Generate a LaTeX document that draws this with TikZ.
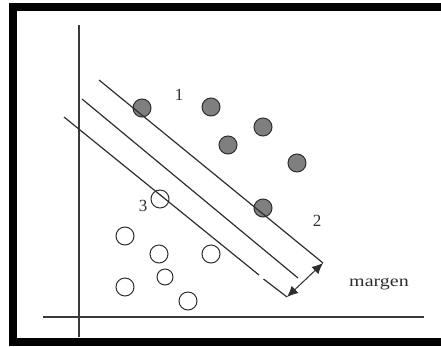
\documentclass[tikz,border=0pt]{standalone}
\usepackage{fontspec}
\setmainfont{Liberation Serif}
\newfontfamily\margenfont[FakeStretch=1.25]{Liberation Serif}
\usetikzlibrary{arrows.meta}

\definecolor{svmtrazo}{HTML}{2E2E2E}
\definecolor{svmgris}{HTML}{7F7F7F}
\definecolor{svmeje}{HTML}{3A3A3A}

\begin{document}
\begin{tikzpicture}[x=1pt,y=-1pt,
  lleno/.style={circle, draw=svmtrazo, fill=svmgris, line width=1pt,
                minimum size=18pt, inner sep=0pt},
  vacio/.style={circle, draw=svmtrazo, line width=1pt,
                minimum size=18pt, inner sep=0pt},
  etiqueta/.style={font=\fontsize{17}{19}\selectfont, text=svmtrazo, inner sep=0pt},
  recta/.style={draw=svmtrazo, line width=1.2pt}]
\useasboundingbox (0,0) rectangle (441,346);
% marco
\draw[line width=8pt] (441,7) -- (13,7) -- (13,342) -- (441,342);
% ejes
\coordinate (ejeY0) at (79,25);  \coordinate (ejeY1) at (79,337);
\coordinate (ejeX0) at (43,317); \coordinate (ejeX1) at (424,317);
\draw[svmeje, line width=1.6pt] (ejeY0) -- (ejeY1);
\draw[svmeje, line width=1.6pt] (ejeX0) -- (ejeX1);
% clase 1
\node[lleno] (p1) at (142,108) {};
\node[lleno] (p2) at (211,107) {};
\node[lleno] (p3) at (263,127) {};
\node[lleno] (p4) at (228,145) {};
\node[lleno] (p5) at (297,163) {};
\node[lleno] (p6) at (263,208) {};
% clase 2
\node[vacio] (q1) at (160,199) {};
\node[vacio] (q2) at (125,236) {};
\node[vacio] (q3) at (159,254) {};
\node[vacio] (q4) at (211,254) {};
\node[vacio, minimum size=16pt] (q5) at (165,277) {};
\node[vacio] (q6) at (125,287) {};
\node[vacio] (q7) at (188,301) {};
% hiperplanos
\coordinate (sup0) at (99,80);  \coordinate (sup1) at (323,263);
\coordinate (med0) at (82,99);  \coordinate (med1) at (298,278);
\coordinate (inf0) at (64,117); \coordinate (infA) at (259,275);
\coordinate (infB) at (263.5,279); \coordinate (inf1) at (287,297);
\draw[recta] (sup0) -- (sup1);
\draw[recta] (med0) -- (med1);
\draw[recta] (inf0) -- (infA);
\draw[recta] (infB) -- (inf1);
\draw[svmtrazo, line width=1pt,
      {Latex[length=11pt,width=10pt]}-{Latex[length=11pt,width=10pt]}]
  (inf1) -- (sup1);
% etiquetas
\node[etiqueta] (e1) at (179,95) {1};
\node[etiqueta] (e2) at (317,221) {2};
\node[etiqueta] (e3) at (143,206) {3};
\node[etiqueta, font=\margenfont\fontsize{16}{18}\selectfont] (margen) at (379,284) {margen};
\end{tikzpicture}
\end{document}
